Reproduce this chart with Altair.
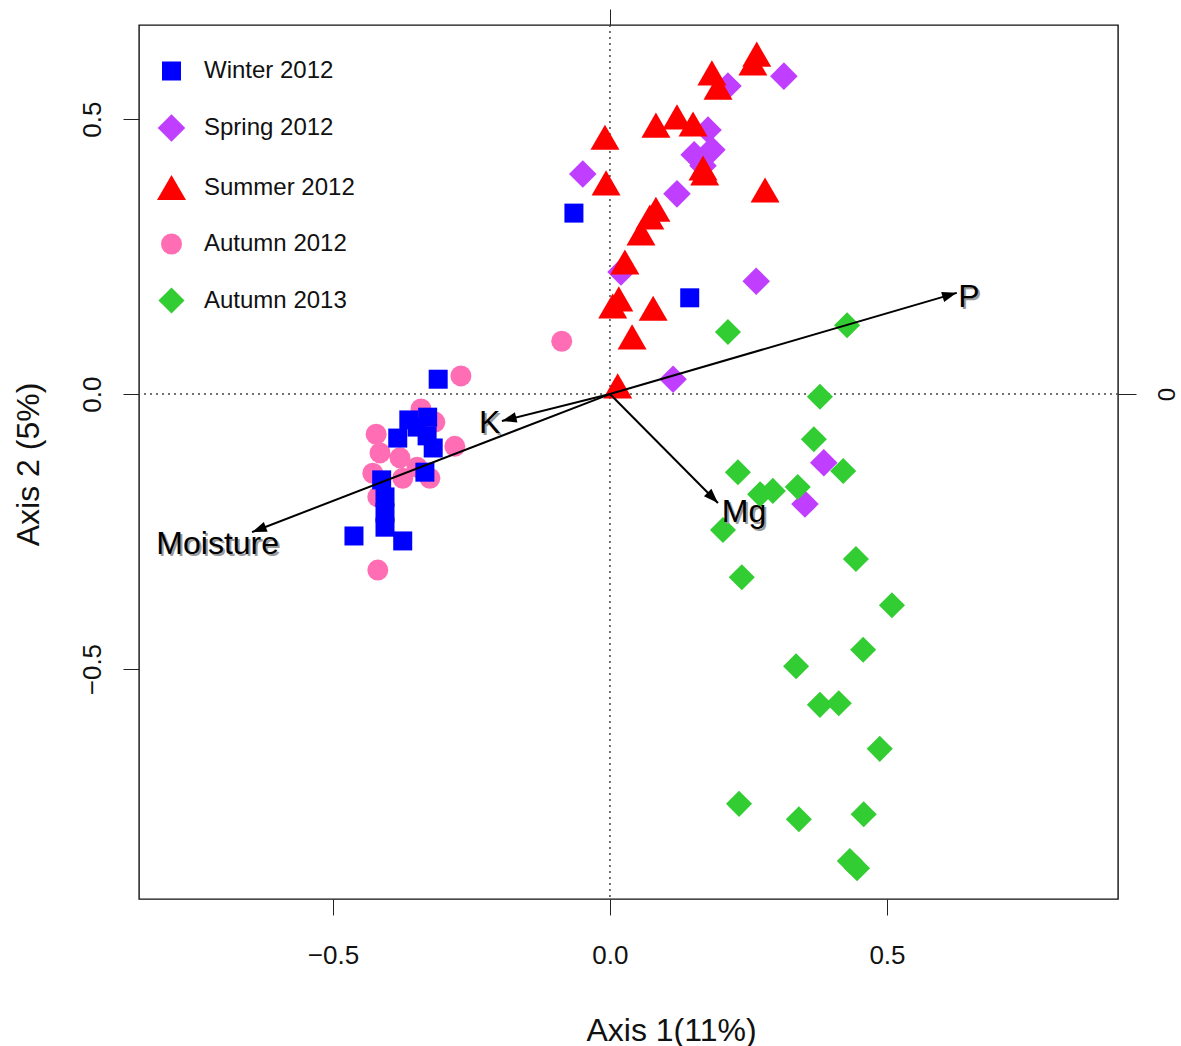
import math
import altair as alt
import pandas as pd

# Site scores on ordination axes 1 and 2, one list pair per sampling season
winter_x = [-0.310, -0.329, -0.363, -0.348, -0.383, -0.330, -0.319, -0.334,
            -0.412, -0.406, -0.406, -0.406, -0.374, -0.462, -0.065, 0.144]
winter_y = [0.027, -0.042, -0.047, -0.060, -0.080, -0.076, -0.098, -0.142,
            -0.156, -0.187, -0.216, -0.242, -0.267, -0.258, 0.329, 0.175]

spring_x = [0.314, 0.213, 0.177, 0.184, 0.152, 0.168, -0.049, 0.121,
            0.020, 0.264, 0.114, 0.386, 0.352]
spring_y = [0.578, 0.560, 0.480, 0.444, 0.435, 0.415, 0.400, 0.364,
            0.222, 0.205, 0.027, -0.125, -0.200]

summer_x = [0.265, 0.258, 0.184, 0.195, 0.083, 0.121, 0.150, -0.009, -0.007,
            0.168, 0.171, 0.280, 0.083, 0.072, 0.056, 0.027, 0.016, 0.005,
            0.078, 0.040, 0.014]
summer_y = [0.618, 0.602, 0.584, 0.558, 0.489, 0.504, 0.491, 0.467, 0.384,
            0.411, 0.402, 0.371, 0.336, 0.322, 0.293, 0.240, 0.173, 0.160,
            0.156, 0.104, 0.015]

autumn12_x = [-0.269, -0.341, -0.316, -0.422, -0.415, -0.379, -0.280, -0.428,
              -0.374, -0.325, -0.348, -0.419, -0.419, -0.087]
autumn12_y = [0.033, -0.027, -0.051, -0.073, -0.107, -0.116, -0.095, -0.144,
              -0.153, -0.153, -0.133, -0.187, -0.320, 0.096]

autumn13_x = [0.213, 0.428, 0.379, 0.368, 0.421, 0.231, 0.294, 0.271, 0.339,
              0.204, 0.444, 0.238, 0.509, 0.457, 0.336, 0.379, 0.413, 0.487,
              0.233, 0.341, 0.458, 0.433, 0.446]
autumn13_y = [0.113, 0.125, -0.005, -0.082, -0.140, -0.142, -0.176, -0.182,
              -0.169, -0.247, -0.300, -0.333, -0.384, -0.465, -0.495, -0.565,
              -0.562, -0.645, -0.745, -0.773, -0.764, -0.849, -0.862]

# Environmental vectors (arrow tips) and where their names sit
env_names = ["Moisture", "K", "Mg", "P"]
env_x = [-0.646, -0.195, 0.195, 0.626]
env_y = [-0.251, -0.049, -0.198, 0.184]
env_label_x = [-0.708, -0.217, 0.242, 0.648]
env_label_y = [-0.273, -0.053, -0.215, 0.176]

seasons = ["Winter 2012", "Spring 2012", "Summer 2012", "Autumn 2012", "Autumn 2013"]
colors = ["#0000FF", "#BF3EFF", "#FF0000", "#FF6EB4", "#32CD32"]
shapes = ["square", "diamond", "triangle-up", "circle", "diamond"]
sizes = [361, 760, 841, 441, 680]

# draw order: purple and pink first, red triangles last
groups = [
    ("Spring 2012", spring_x, spring_y),
    ("Autumn 2012", autumn12_x, autumn12_y),
    ("Winter 2012", winter_x, winter_y),
    ("Autumn 2013", autumn13_x, autumn13_y),
    ("Summer 2012", summer_x, summer_y),
]
rows = []
for name, xs, ys in groups:
    for a, b in zip(xs, ys):
        rows.append({"season": name, "ax1": a, "ax2": b, "idx": len(rows)})
sites = pd.DataFrame(rows)

vectors = pd.DataFrame({
    "name": env_names,
    "x0": [0.0] * len(env_names),
    "y0": [0.0] * len(env_names),
    "x": env_x,
    "y": env_y,
    "lx": env_label_x,
    "ly": env_label_y,
    "angle": [(math.degrees(math.atan2(a, b)) + 360) % 360 for a, b in zip(env_x, env_y)],
})

XDOM = [-0.850, 0.917]
YDOM = [-0.918, 0.671]
xs_ = alt.Scale(domain=XDOM, nice=False, zero=False)
ys_ = alt.Scale(domain=YDOM, nice=False, zero=False)

NARROW = "Liberation Sans Narrow, Arial Narrow, Liberation Sans, sans-serif"
SANS = "Liberation Sans, Arial, sans-serif"

x_axis = alt.Axis(values=[-0.5, 0, 0.5], format=".1f", grid=False, domain=False,
                  tickSize=16, tickColor="#222", labelFontSize=26, labelFont=NARROW,
                  labelColor="#111", labelPadding=27, title="Axis 1(11%)",
                  titleFont=NARROW, titleFontSize=32, titleFontWeight="normal",
                  titleColor="#111", titleX=532, titleY=141, titleAnchor="middle",
                  titleBaseline="alphabetic")
y_axis = alt.Axis(values=[-0.5, 0, 0.5], format=".1f", grid=False, domain=False,
                  tickSize=16, tickColor="#222", labelFontSize=26, labelFont=NARROW,
                  labelColor="#111", labelAngle=270, labelAlign="center",
                  labelBaseline="bottom", labelPadding=18, title="Axis 2 (5%)",
                  titleFont=NARROW, titleFontSize=32, titleFontWeight="normal",
                  titleColor="#111", titleAngle=270, titleX=-111, titleY=439,
                  titleAlign="center", titleBaseline="middle")
top_axis = alt.Axis(orient="top", values=[0], labels=False, grid=False, domain=False,
                    tickSize=16, tickColor="#222", title=None)
right_axis = alt.Axis(orient="right", values=[0], format=".0f", grid=False, domain=False,
                      tickSize=18, tickColor="#222", labelFontSize=24, labelFont=NARROW,
                      labelColor="#111", labelAngle=270, labelAlign="center",
                      labelBaseline="top", labelPadding=19, title=None)

zero = pd.DataFrame({"v": [0.0]})

vline = alt.Chart(zero).mark_rule(color="#444", strokeDash=[2, 4], strokeWidth=1.5).encode(
    x=alt.X("v:Q", scale=xs_, axis=top_axis)
)
hline = alt.Chart(zero).mark_rule(color="#444", strokeDash=[2, 4], strokeWidth=1.5).encode(
    y=alt.Y("v:Q", scale=ys_, axis=right_axis)
)

legend = alt.Legend(orient="none", legendX=18, legendY=34, title=None,
                    labelFontSize=24, labelFont=SANS, labelColor="#111",
                    symbolSize=700, rowPadding=31, labelOffset=18,
                    padding=0, symbolStrokeWidth=0, labelLimit=400)

points = alt.Chart(sites).mark_point(filled=True, opacity=1, strokeWidth=0).encode(
    x=alt.X("ax1:Q", scale=xs_, axis=x_axis),
    y=alt.Y("ax2:Q", scale=ys_, axis=y_axis),
    color=alt.Color("season:N", scale=alt.Scale(domain=seasons, range=colors), legend=legend),
    shape=alt.Shape("season:N", scale=alt.Scale(domain=seasons, range=shapes), legend=legend),
    size=alt.Size("season:N", scale=alt.Scale(type="ordinal", domain=seasons, range=sizes),
                  legend=None),
    order=alt.Order("idx:Q"),
)

arrows = alt.Chart(vectors).mark_rule(color="black", strokeWidth=2).encode(
    x=alt.X("x0:Q", scale=xs_, axis=None),
    y=alt.Y("y0:Q", scale=ys_, axis=None),
    x2="x:Q",
    y2="y:Q",
)
heads = alt.Chart(vectors).mark_point(
    shape="M0,0 L-0.75,2.1 L0.75,2.1 Z", filled=True, color="black", opacity=1,
    size=196, strokeWidth=0
).encode(
    x=alt.X("x:Q", scale=xs_, axis=None),
    y=alt.Y("y:Q", scale=ys_, axis=None),
    angle=alt.Angle("angle:Q", scale=None),
)
label_shadow = alt.Chart(vectors).mark_text(
    font=SANS, fontSize=32, color="#9a9a9a", dx=2, dy=2, align="center", baseline="middle"
).encode(
    x=alt.X("lx:Q", scale=xs_, axis=None),
    y=alt.Y("ly:Q", scale=ys_, axis=None),
    text="name:N",
)
labels = alt.Chart(vectors).mark_text(
    font=SANS, fontSize=32, color="black", align="center", baseline="middle"
).encode(
    x=alt.X("lx:Q", scale=xs_, axis=None),
    y=alt.Y("ly:Q", scale=ys_, axis=None),
    text="name:N",
)

chart = alt.layer(vline, hline, points, arrows, heads, label_shadow, labels).resolve_axis(
    x="independent", y="independent"
).properties(
    width=979, height=874,
    autosize=alt.AutoSizeParams(type="none"),
    padding={"left": 139, "top": 25, "right": 63, "bottom": 147},
    background="white",
).configure_view(stroke="#111", strokeWidth=1.4)

chart.save("out.html", embed_options={"renderer": "svg", "actions": False})
